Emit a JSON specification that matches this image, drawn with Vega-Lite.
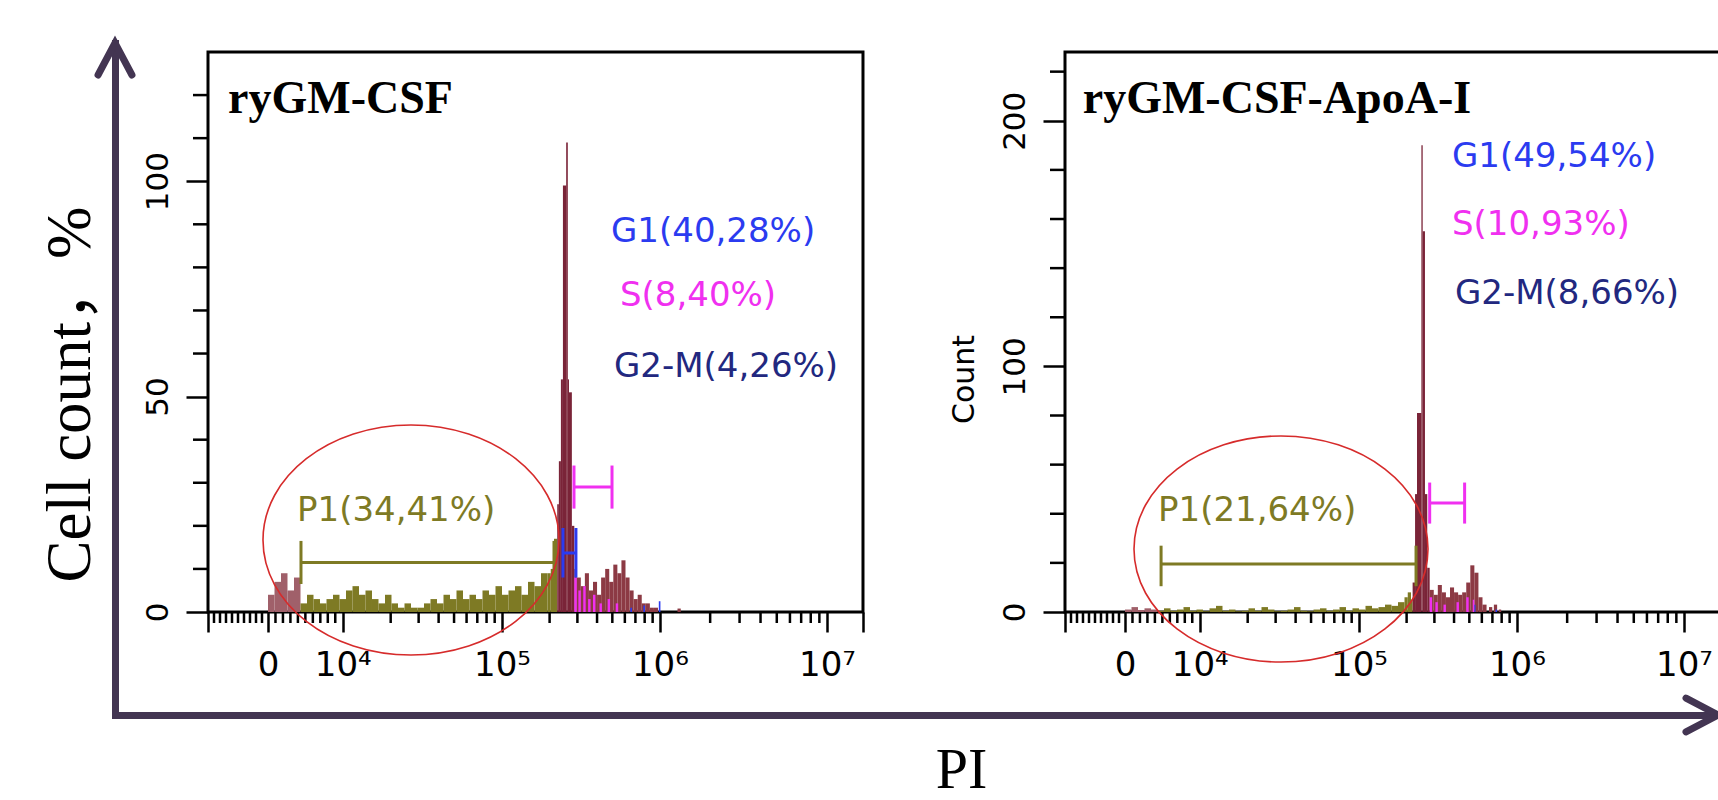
{
  "$schema": "https://vega.github.io/schema/vega-lite/v6.json",
  "width": 1603,
  "height": 672,
  "autosize": {"type": "none"},
  "padding": {"left": 115, "top": 43, "right": 0, "bottom": 85},
  "background": "white",
  "config": {"view": {"stroke": null}, "axis": {"grid": false}},
  "datasets": {
    "arrows": [{"ax": 0, "ay": 1, "k": "v"}, {"ax": 1, "ay": 0, "k": "h"}],
    "xminor": [
      {"x": 3.2277, "y": 0, "y2": 0}, {"x": 3.2646, "y": 0, "y2": 0}, {"x": 3.3015, "y": 0, "y2": 0}, {"x": 3.3385, "y": 0, "y2": 0},
      {"x": 3.3754, "y": 0, "y2": 0}, {"x": 3.4123, "y": 0, "y2": 0}, {"x": 3.4492, "y": 0, "y2": 0}, {"x": 3.4862, "y": 0, "y2": 0},
      {"x": 3.5231, "y": 0, "y2": 0}, {"x": 3.606, "y": 0, "y2": 0}, {"x": 3.652, "y": 0, "y2": 0}, {"x": 3.698, "y": 0, "y2": 0},
      {"x": 3.744, "y": 0, "y2": 0}, {"x": 3.79, "y": 0, "y2": 0}, {"x": 3.836, "y": 0, "y2": 0}, {"x": 3.882, "y": 0, "y2": 0},
      {"x": 3.928, "y": 0, "y2": 0}, {"x": 3.974, "y": 0, "y2": 0}, {"x": 4.315, "y": 0, "y2": 0}, {"x": 4.487, "y": 0, "y2": 0},
      {"x": 4.61, "y": 0, "y2": 0}, {"x": 4.705, "y": 0, "y2": 0}, {"x": 4.782, "y": 0, "y2": 0}, {"x": 4.848, "y": 0, "y2": 0},
      {"x": 4.905, "y": 0, "y2": 0}, {"x": 4.955, "y": 0, "y2": 0}, {"x": 5.293, "y": 0, "y2": 0}, {"x": 5.464, "y": 0, "y2": 0},
      {"x": 5.585, "y": 0, "y2": 0}, {"x": 5.679, "y": 0, "y2": 0}, {"x": 5.756, "y": 0, "y2": 0}, {"x": 5.821, "y": 0, "y2": 0},
      {"x": 5.878, "y": 0, "y2": 0}, {"x": 5.927, "y": 0, "y2": 0}, {"x": 6.281, "y": 0, "y2": 0}, {"x": 6.462, "y": 0, "y2": 0},
      {"x": 6.591, "y": 0, "y2": 0}, {"x": 6.691, "y": 0, "y2": 0}, {"x": 6.772, "y": 0, "y2": 0}, {"x": 6.841, "y": 0, "y2": 0},
      {"x": 6.9, "y": 0, "y2": 0}, {"x": 6.953, "y": 0, "y2": 0}
    ],
    "yminor1": [
      {"x": 3.1908, "x2": 3.1908, "y": 10}, {"x": 3.1908, "x2": 3.1908, "y": 20}, {"x": 3.1908, "x2": 3.1908, "y": 30},
      {"x": 3.1908, "x2": 3.1908, "y": 40}, {"x": 3.1908, "x2": 3.1908, "y": 60}, {"x": 3.1908, "x2": 3.1908, "y": 70},
      {"x": 3.1908, "x2": 3.1908, "y": 80}, {"x": 3.1908, "x2": 3.1908, "y": 90}, {"x": 3.1908, "x2": 3.1908, "y": 110},
      {"x": 3.1908, "x2": 3.1908, "y": 120}
    ],
    "yminor2": [
      {"x": 3.1908, "x2": 3.1908, "y": 20}, {"x": 3.1908, "x2": 3.1908, "y": 40}, {"x": 3.1908, "x2": 3.1908, "y": 60},
      {"x": 3.1908, "x2": 3.1908, "y": 80}, {"x": 3.1908, "x2": 3.1908, "y": 120}, {"x": 3.1908, "x2": 3.1908, "y": 140},
      {"x": 3.1908, "x2": 3.1908, "y": 160}, {"x": 3.1908, "x2": 3.1908, "y": 180}, {"x": 3.1908, "x2": 3.1908, "y": 220}
    ],
    "h1": [
      {"x": 3.56, "x2": 3.6, "y": 4, "g": "debris"},
      {"x": 3.6, "x2": 3.64, "y": 7, "g": "debris"},
      {"x": 3.64, "x2": 3.68, "y": 9, "g": "debris"},
      {"x": 3.68, "x2": 3.72, "y": 5, "g": "debris"},
      {"x": 3.72, "x2": 3.76, "y": 8, "g": "debris"},
      {"x": 3.76, "x2": 3.8, "y": 2, "g": "P1"},
      {"x": 3.8, "x2": 3.84, "y": 4, "g": "P1"},
      {"x": 3.84, "x2": 3.88, "y": 3, "g": "P1"},
      {"x": 3.88, "x2": 3.92, "y": 2, "g": "P1"},
      {"x": 3.92, "x2": 3.96, "y": 3, "g": "P1"},
      {"x": 3.96, "x2": 4.0, "y": 4, "g": "P1"},
      {"x": 4.0, "x2": 4.04, "y": 3, "g": "P1"},
      {"x": 4.04, "x2": 4.08, "y": 5, "g": "P1"},
      {"x": 4.08, "x2": 4.12, "y": 6, "g": "P1"},
      {"x": 4.12, "x2": 4.16, "y": 4, "g": "P1"},
      {"x": 4.16, "x2": 4.2, "y": 5, "g": "P1"},
      {"x": 4.2, "x2": 4.24, "y": 3, "g": "P1"},
      {"x": 4.24, "x2": 4.28, "y": 2, "g": "P1"},
      {"x": 4.28, "x2": 4.32, "y": 4, "g": "P1"},
      {"x": 4.32, "x2": 4.36, "y": 2, "g": "P1"},
      {"x": 4.36, "x2": 4.4, "y": 1, "g": "P1"},
      {"x": 4.4, "x2": 4.44, "y": 2, "g": "P1"},
      {"x": 4.44, "x2": 4.48, "y": 1, "g": "P1"},
      {"x": 4.48, "x2": 4.52, "y": 1, "g": "P1"},
      {"x": 4.52, "x2": 4.56, "y": 2, "g": "P1"},
      {"x": 4.56, "x2": 4.6, "y": 3, "g": "P1"},
      {"x": 4.6, "x2": 4.64, "y": 2, "g": "P1"},
      {"x": 4.64, "x2": 4.68, "y": 4, "g": "P1"},
      {"x": 4.68, "x2": 4.72, "y": 3, "g": "P1"},
      {"x": 4.72, "x2": 4.76, "y": 5, "g": "P1"},
      {"x": 4.76, "x2": 4.8, "y": 3, "g": "P1"},
      {"x": 4.8, "x2": 4.84, "y": 4, "g": "P1"},
      {"x": 4.84, "x2": 4.88, "y": 3, "g": "P1"},
      {"x": 4.88, "x2": 4.92, "y": 5, "g": "P1"},
      {"x": 4.92, "x2": 4.96, "y": 4, "g": "P1"},
      {"x": 4.96, "x2": 5.0, "y": 6, "g": "P1"},
      {"x": 5.0, "x2": 5.04, "y": 4, "g": "P1"},
      {"x": 5.04, "x2": 5.08, "y": 5, "g": "P1"},
      {"x": 5.08, "x2": 5.12, "y": 6, "g": "P1"},
      {"x": 5.12, "x2": 5.16, "y": 4, "g": "P1"},
      {"x": 5.16, "x2": 5.2, "y": 7, "g": "P1"},
      {"x": 5.2, "x2": 5.24, "y": 6, "g": "P1"},
      {"x": 5.24, "x2": 5.28, "y": 9, "g": "P1"},
      {"x": 5.28, "x2": 5.3, "y": 9, "g": "P1"},
      {"x": 5.3, "x2": 5.32, "y": 10, "g": "P1"},
      {"x": 5.32, "x2": 5.34, "y": 17, "g": "P1"},
      {"x": 5.34, "x2": 5.35, "y": 25, "g": "peak"},
      {"x": 5.35, "x2": 5.3625, "y": 35, "g": "peak"},
      {"x": 5.3625, "x2": 5.375, "y": 54, "g": "peak"},
      {"x": 5.375, "x2": 5.395, "y": 99, "g": "peak"},
      {"x": 5.395, "x2": 5.405, "y": 109, "g": "peak"},
      {"x": 5.405, "x2": 5.4125, "y": 54, "g": "peak"},
      {"x": 5.4125, "x2": 5.43, "y": 51, "g": "peak"},
      {"x": 5.43, "x2": 5.445, "y": 20, "g": "peak"},
      {"x": 5.445, "x2": 5.46, "y": 10, "g": "main"},
      {"x": 5.46, "x2": 5.485, "y": 8, "g": "main"},
      {"x": 5.485, "x2": 5.51, "y": 6, "g": "main"},
      {"x": 5.51, "x2": 5.535, "y": 9, "g": "main"},
      {"x": 5.535, "x2": 5.56, "y": 5, "g": "main"},
      {"x": 5.56, "x2": 5.585, "y": 7, "g": "main"},
      {"x": 5.585, "x2": 5.61, "y": 4, "g": "main"},
      {"x": 5.61, "x2": 5.635, "y": 8, "g": "main"},
      {"x": 5.635, "x2": 5.66, "y": 10, "g": "main"},
      {"x": 5.66, "x2": 5.685, "y": 7, "g": "main"},
      {"x": 5.685, "x2": 5.71, "y": 11, "g": "main"},
      {"x": 5.71, "x2": 5.735, "y": 9, "g": "main"},
      {"x": 5.735, "x2": 5.76, "y": 12, "g": "main"},
      {"x": 5.76, "x2": 5.785, "y": 8, "g": "main"},
      {"x": 5.785, "x2": 5.81, "y": 5, "g": "main"},
      {"x": 5.81, "x2": 5.835, "y": 3, "g": "main"},
      {"x": 5.835, "x2": 5.86, "y": 4, "g": "main"},
      {"x": 5.86, "x2": 5.885, "y": 2, "g": "main"},
      {"x": 5.885, "x2": 5.91, "y": 2, "g": "main"},
      {"x": 5.91, "x2": 5.935, "y": 1, "g": "main"},
      {"x": 5.935, "x2": 5.96, "y": 1, "g": "main"},
      {"x": 6.08, "x2": 6.1, "y": 0.8, "g": "main"},
      {"x": 5.445, "x2": 5.46, "y": 8, "g": "S"},
      {"x": 5.47, "x2": 5.485, "y": 5, "g": "S"},
      {"x": 5.5, "x2": 5.515, "y": 6, "g": "S"},
      {"x": 5.53, "x2": 5.545, "y": 3, "g": "S"},
      {"x": 5.56, "x2": 5.575, "y": 4, "g": "S"},
      {"x": 5.6, "x2": 5.615, "y": 2, "g": "S"},
      {"x": 5.65, "x2": 5.665, "y": 3, "g": "S"},
      {"x": 5.7, "x2": 5.715, "y": 2, "g": "S"},
      {"x": 5.79, "x2": 5.8, "y": 1, "g": "G1"},
      {"x": 5.87, "x2": 5.88, "y": 1.5, "g": "G1"},
      {"x": 5.965, "x2": 5.975, "y": 2.5, "g": "G1"}
    ],
    "h2": [
      {"x": 3.56, "x2": 3.6, "y": 1, "g": "debris"},
      {"x": 3.6, "x2": 3.64, "y": 2, "g": "debris"},
      {"x": 3.64, "x2": 3.68, "y": 0.8, "g": "debris"},
      {"x": 3.68, "x2": 3.72, "y": 1.5, "g": "debris"},
      {"x": 3.72, "x2": 3.76, "y": 1, "g": "debris"},
      {"x": 3.76, "x2": 3.8, "y": 0.5, "g": "P1"},
      {"x": 3.8, "x2": 3.84, "y": 1.5, "g": "P1"},
      {"x": 3.84, "x2": 3.88, "y": 0.5, "g": "P1"},
      {"x": 3.88, "x2": 3.92, "y": 1, "g": "P1"},
      {"x": 3.92, "x2": 3.96, "y": 2, "g": "P1"},
      {"x": 3.96, "x2": 4.0, "y": 0.5, "g": "P1"},
      {"x": 4.0, "x2": 4.04, "y": 1, "g": "P1"},
      {"x": 4.04, "x2": 4.08, "y": 0.3, "g": "P1"},
      {"x": 4.08, "x2": 4.12, "y": 1.5, "g": "P1"},
      {"x": 4.12, "x2": 4.16, "y": 2.5, "g": "P1"},
      {"x": 4.16, "x2": 4.2, "y": 0.5, "g": "P1"},
      {"x": 4.2, "x2": 4.24, "y": 1, "g": "P1"},
      {"x": 4.24, "x2": 4.28, "y": 0.3, "g": "P1"},
      {"x": 4.28, "x2": 4.32, "y": 0.5, "g": "P1"},
      {"x": 4.32, "x2": 4.36, "y": 1.5, "g": "P1"},
      {"x": 4.36, "x2": 4.4, "y": 0.5, "g": "P1"},
      {"x": 4.4, "x2": 4.44, "y": 2, "g": "P1"},
      {"x": 4.44, "x2": 4.48, "y": 1, "g": "P1"},
      {"x": 4.48, "x2": 4.52, "y": 0.3, "g": "P1"},
      {"x": 4.52, "x2": 4.56, "y": 0.5, "g": "P1"},
      {"x": 4.56, "x2": 4.6, "y": 1, "g": "P1"},
      {"x": 4.6, "x2": 4.64, "y": 2, "g": "P1"},
      {"x": 4.64, "x2": 4.68, "y": 0.5, "g": "P1"},
      {"x": 4.68, "x2": 4.72, "y": 0.3, "g": "P1"},
      {"x": 4.72, "x2": 4.76, "y": 1, "g": "P1"},
      {"x": 4.76, "x2": 4.8, "y": 1.5, "g": "P1"},
      {"x": 4.8, "x2": 4.84, "y": 0.5, "g": "P1"},
      {"x": 4.84, "x2": 4.88, "y": 1, "g": "P1"},
      {"x": 4.88, "x2": 4.92, "y": 2, "g": "P1"},
      {"x": 4.92, "x2": 4.96, "y": 0.5, "g": "P1"},
      {"x": 4.96, "x2": 5.0, "y": 1.5, "g": "P1"},
      {"x": 5.0, "x2": 5.04, "y": 1, "g": "P1"},
      {"x": 5.04, "x2": 5.08, "y": 2.5, "g": "P1"},
      {"x": 5.08, "x2": 5.12, "y": 1.5, "g": "P1"},
      {"x": 5.12, "x2": 5.16, "y": 2, "g": "P1"},
      {"x": 5.16, "x2": 5.2, "y": 3, "g": "P1"},
      {"x": 5.2, "x2": 5.24, "y": 2.5, "g": "P1"},
      {"x": 5.24, "x2": 5.28, "y": 4, "g": "P1"},
      {"x": 5.28, "x2": 5.3, "y": 6, "g": "P1"},
      {"x": 5.3, "x2": 5.32, "y": 8, "g": "P1"},
      {"x": 5.32, "x2": 5.33, "y": 5, "g": "P1"},
      {"x": 5.33, "x2": 5.345, "y": 12, "g": "peak"},
      {"x": 5.345, "x2": 5.357, "y": 48, "g": "peak"},
      {"x": 5.357, "x2": 5.384, "y": 81, "g": "peak"},
      {"x": 5.384, "x2": 5.392, "y": 190, "g": "peak"},
      {"x": 5.392, "x2": 5.406, "y": 155, "g": "peak"},
      {"x": 5.406, "x2": 5.42, "y": 48, "g": "peak"},
      {"x": 5.42, "x2": 5.435, "y": 18, "g": "peak"},
      {"x": 5.435, "x2": 5.46, "y": 9, "g": "main"},
      {"x": 5.46, "x2": 5.485, "y": 7, "g": "main"},
      {"x": 5.485, "x2": 5.51, "y": 11, "g": "main"},
      {"x": 5.51, "x2": 5.535, "y": 8, "g": "main"},
      {"x": 5.535, "x2": 5.56, "y": 6, "g": "main"},
      {"x": 5.56, "x2": 5.585, "y": 10, "g": "main"},
      {"x": 5.585, "x2": 5.61, "y": 8, "g": "main"},
      {"x": 5.61, "x2": 5.635, "y": 7, "g": "main"},
      {"x": 5.635, "x2": 5.66, "y": 8, "g": "main"},
      {"x": 5.66, "x2": 5.685, "y": 12, "g": "main"},
      {"x": 5.685, "x2": 5.71, "y": 19, "g": "main"},
      {"x": 5.71, "x2": 5.735, "y": 16, "g": "main"},
      {"x": 5.735, "x2": 5.76, "y": 6, "g": "main"},
      {"x": 5.76, "x2": 5.785, "y": 3, "g": "main"},
      {"x": 5.8, "x2": 5.82, "y": 2, "g": "main"},
      {"x": 5.83, "x2": 5.85, "y": 3, "g": "main"},
      {"x": 5.86, "x2": 5.875, "y": 1, "g": "main"},
      {"x": 5.435, "x2": 5.45, "y": 6, "g": "S"},
      {"x": 5.47, "x2": 5.485, "y": 4, "g": "S"},
      {"x": 5.52, "x2": 5.535, "y": 3, "g": "S"},
      {"x": 5.6, "x2": 5.615, "y": 4, "g": "S"},
      {"x": 5.66, "x2": 5.675, "y": 6, "g": "S"},
      {"x": 5.7, "x2": 5.71, "y": 5, "g": "S"},
      {"x": 5.71, "x2": 5.717, "y": 3, "g": "G1"},
      {"x": 5.84, "x2": 5.85, "y": 1, "g": "G1"}
    ],
    "g1": [
      {"x": 3.763, "x2": 5.32, "y": 11.5, "y2": 11.5, "g": "P1"},
      {"x": 3.763, "x2": 3.763, "y": 6.5, "y2": 16.5, "g": "P1"},
      {"x": 5.32, "x2": 5.32, "y": 6.5, "y2": 16.5, "g": "P1"},
      {"x": 5.443, "x2": 5.677, "y": 29, "y2": 29, "g": "S"},
      {"x": 5.443, "x2": 5.443, "y": 24, "y2": 34, "g": "S"},
      {"x": 5.677, "x2": 5.677, "y": 24, "y2": 34, "g": "S"},
      {"x": 5.375, "x2": 5.455, "y": 13.7, "y2": 13.7, "g": "G1"},
      {"x": 5.375, "x2": 5.375, "y": 8, "y2": 19.5, "g": "G1"},
      {"x": 5.455, "x2": 5.455, "y": 8, "y2": 19.5, "g": "G1"}
    ],
    "g2": [
      {"x": 3.782, "x2": 5.351, "y": 19.5, "y2": 19.5, "g": "P1"},
      {"x": 3.782, "x2": 3.782, "y": 10.5, "y2": 27, "g": "P1"},
      {"x": 5.351, "x2": 5.351, "y": 10.5, "y2": 27, "g": "P1"},
      {"x": 5.435, "x2": 5.65, "y": 44.4, "y2": 44.4, "g": "S"},
      {"x": 5.435, "x2": 5.435, "y": 36, "y2": 52.7, "g": "S"},
      {"x": 5.65, "x2": 5.65, "y": 36, "y2": 52.7, "g": "S"}
    ],
    "t1": [
      {"x": 5.6708, "y": 88.21, "t": "G1(40,28%)", "g": "G1"},
      {"x": 5.7262, "y": 73.36, "t": "S(8,40%)", "g": "S"},
      {"x": 5.6893, "y": 56.88, "t": "G2-M(4,26%)", "g": "G2M"},
      {"x": 3.7385, "y": 23.45, "t": "P1(34,41%)", "g": "P1"}
    ],
    "t2": [
      {"x": 5.5723, "y": 185.25, "t": "G1(49,54%)", "g": "G1"},
      {"x": 5.5723, "y": 157.56, "t": "S(10,93%)", "g": "S"},
      {"x": 5.5908, "y": 129.47, "t": "G2-M(8,66%)", "g": "G2M"},
      {"x": 3.7631, "y": 41.12, "t": "P1(21,64%)", "g": "P1"}
    ]
  },
  "layer": [
    {
      "data": {"name": "arrows"},
      "mark": {"type": "point", "filled": false, "stroke": "#433552", "strokeWidth": 7, "strokeCap": "round", "strokeJoin": "miter", "opacity": 1, "size": 4096},
      "encoding": {
        "x": {"field": "ax", "type": "quantitative", "scale": {"domain": [0, 1], "nice": false, "zero": false},
          "axis": {"orient": "bottom", "domain": true, "domainColor": "#433552", "domainWidth": 7, "domainCap": "square", "ticks": false, "labels": false, "grid": false,
            "title": "PI", "titleFont": "Liberation Serif", "titleFontSize": 58, "titleFontWeight": "normal", "titleColor": "black", "titleX": 846, "titleAnchor": "middle", "titlePadding": 26}},
        "y": {"field": "ay", "type": "quantitative", "scale": {"domain": [0, 1], "nice": false, "zero": false},
          "axis": {"orient": "left", "domain": true, "domainColor": "#433552", "domainWidth": 7, "domainCap": "square", "ticks": false, "labels": false, "grid": false,
            "title": "Cell count，%", "titleFont": "Liberation Serif, Noto Sans CJK SC", "titleFontSize": 63, "titleFontWeight": "normal", "titleColor": "black", "titleY": 351, "titlePadding": 13}},
        "shape": {"field": "k", "type": "nominal", "scale": {"domain": ["v", "h"], "range": ["M -0.53 1 L 0 0 L 0.53 1", "M -1 -0.53 L 0 0 L -1 0.53"]}, "legend": null}
      }
    },
    {
      "encoding": {
        "x": {"field": "x", "type": "quantitative", "scale": {"domain": [2.61849, 12.48311], "nice": false, "zero": false},
          "axis": {"orient": "bottom", "offset": -103, "title": null, "domain": false, "grid": false,
            "values": [3.1908, 3.56, 4.02, 5, 5.972, 7, 7.2215],
            "tickColor": "black", "tickWidth": 2.5, "tickSize": 20,
            "labelExpr": "datum.value == 3.56 ? '0' : datum.value == 4.02 ? '10⁴' : datum.value == 5 ? '10⁵' : datum.value == 5.972 ? '10⁶' : datum.value == 7 ? '10⁷' : ''",
            "labelFont": "DejaVu Sans", "labelFontSize": 34, "labelColor": "black", "labelPadding": 16, "labelOverlap": false, "labelFlush": false, "labelBound": false}},
        "y": {"field": "y", "type": "quantitative", "scale": {"domain": [-23.911, 132.089], "nice": false, "zero": false},
          "axis": {"orient": "left", "offset": -93, "title": null, "domain": false, "grid": false,
            "values": [0, 50, 100],
            "tickColor": "black", "tickWidth": 2.5, "tickSize": 22,
            "labelAngle": -90, "labelAlign": "center", "labelBaseline": "bottom",
            "labelFont": "DejaVu Sans", "labelFontSize": 31, "labelColor": "black", "labelPadding": 12, "labelOverlap": false, "labelFlush": false, "labelBound": false}}
      },
      "layer": [
        {
          "data": {"values": [{"x": 3.1908, "x2": 7.2215, "y": 0, "y2": 130}]},
          "mark": {"type": "rect", "fill": "white", "fillOpacity": 0, "stroke": "black", "strokeWidth": 3},
          "encoding": {"x2": {"field": "x2"}, "y2": {"field": "y2"}}
        },
        {
          "data": {"name": "xminor"},
          "mark": {"type": "rule", "color": "black", "strokeWidth": 2.5, "y2Offset": 11},
          "encoding": {"y2": {"field": "y2"}}
        },
        {
          "data": {"name": "yminor1"},
          "mark": {"type": "rule", "color": "black", "strokeWidth": 2.5, "x2Offset": -15},
          "encoding": {"x2": {"field": "x2"}}
        },
        {
          "data": {"name": "h1"},
          "mark": {"type": "rect"},
          "encoding": {
            "x2": {"field": "x2"},
            "y2": {"datum": 0},
            "color": {"field": "g", "type": "nominal", "legend": null, "scale": {"domain": ["debris", "P1", "peak", "main", "S", "G1", "G2M"], "range": ["#A0606A", "#7E7A24", "#7A2438", "#8C3A44", "#F030F0", "#2B3BF0", "#22287F"]}}
          }
        },
        {
          "data": {"name": "g1"},
          "mark": {"type": "rule", "strokeWidth": 3},
          "encoding": {
            "x2": {"field": "x2"},
            "y2": {"field": "y2"},
            "color": {"field": "g", "type": "nominal", "legend": null, "scale": {"domain": ["debris", "P1", "peak", "main", "S", "G1", "G2M"], "range": ["#A0606A", "#7E7A24", "#7A2438", "#8C3A44", "#F030F0", "#2B3BF0", "#22287F"]}}
          }
        },
        {
          "data": {"values": [{"x": 4.44, "y": 16.71}]},
          "mark": {"type": "point", "shape": "M -1 0 A 1 0.777 0 1 1 1 0 A 1 0.777 0 1 1 -1 0 Z", "size": 87616, "filled": false, "stroke": "#D62B2B", "strokeWidth": 1.6, "opacity": 1},
          "encoding": {}
        },
        {
          "data": {"name": "t1"},
          "mark": {"type": "text", "align": "left", "baseline": "middle", "font": "DejaVu Sans", "fontSize": 34},
          "encoding": {
            "text": {"field": "t"},
            "color": {"field": "g", "type": "nominal", "legend": null, "scale": {"domain": ["debris", "P1", "peak", "main", "S", "G1", "G2M"], "range": ["#A0606A", "#7E7A24", "#7A2438", "#8C3A44", "#F030F0", "#2B3BF0", "#22287F"]}}
          }
        },
        {
          "data": {"values": [{"x": 3.314, "y": 119.09, "t": "ryGM-CSF"}]},
          "mark": {"type": "text", "align": "left", "baseline": "middle", "font": "Liberation Serif", "fontWeight": "bold", "fontSize": 46, "color": "black"},
          "encoding": {"text": {"field": "t"}}
        }
      ]
    },
    {
      "encoding": {
        "x": {"field": "x", "type": "quantitative", "scale": {"domain": [-2.65535, 7.20926], "nice": false, "zero": false},
          "axis": {"orient": "bottom", "offset": -103, "title": null, "domain": false, "grid": false,
            "values": [3.1908, 3.56, 4.02, 5, 5.972, 7],
            "tickColor": "black", "tickWidth": 2.5, "tickSize": 20,
            "labelExpr": "datum.value == 3.56 ? '0' : datum.value == 4.02 ? '10⁴' : datum.value == 5 ? '10⁵' : datum.value == 5.972 ? '10⁶' : datum.value == 7 ? '10⁷' : ''",
            "labelFont": "DejaVu Sans", "labelFontSize": 34, "labelColor": "black", "labelPadding": 16, "labelOverlap": false, "labelFlush": false, "labelBound": false}},
        "y": {"field": "y", "type": "quantitative", "scale": {"domain": [-41.936, 231.664], "nice": false, "zero": false},
          "axis": {"orient": "left", "offset": -950, "domain": false, "grid": false,
            "title": "Count", "titleFont": "DejaVu Sans", "titleFontSize": 30, "titleFontWeight": "normal", "titleColor": "black", "titlePadding": 20,
            "values": [0, 100, 200],
            "tickColor": "black", "tickWidth": 2.5, "tickSize": 22,
            "labelAngle": -90, "labelAlign": "center", "labelBaseline": "bottom",
            "labelFont": "DejaVu Sans", "labelFontSize": 31, "labelColor": "black", "labelPadding": 12, "labelOverlap": false, "labelFlush": false, "labelBound": false}}
      },
      "layer": [
        {
          "data": {"values": [{"x": 3.1908, "x2": 7.2215, "y": 0, "y2": 228}]},
          "mark": {"type": "rect", "fill": "white", "fillOpacity": 0, "stroke": "black", "strokeWidth": 3},
          "encoding": {"x2": {"field": "x2"}, "y2": {"field": "y2"}}
        },
        {
          "data": {"name": "xminor"},
          "mark": {"type": "rule", "color": "black", "strokeWidth": 2.5, "y2Offset": 11},
          "encoding": {"y2": {"field": "y2"}}
        },
        {
          "data": {"name": "yminor2"},
          "mark": {"type": "rule", "color": "black", "strokeWidth": 2.5, "x2Offset": -15},
          "encoding": {"x2": {"field": "x2"}}
        },
        {
          "data": {"name": "h2"},
          "mark": {"type": "rect"},
          "encoding": {
            "x2": {"field": "x2"},
            "y2": {"datum": 0},
            "color": {"field": "g", "type": "nominal", "legend": null, "scale": {"domain": ["debris", "P1", "peak", "main", "S", "G1", "G2M"], "range": ["#A0606A", "#7E7A24", "#7A2438", "#8C3A44", "#F030F0", "#2B3BF0", "#22287F"]}}
          }
        },
        {
          "data": {"name": "g2"},
          "mark": {"type": "rule", "strokeWidth": 3},
          "encoding": {
            "x2": {"field": "x2"},
            "y2": {"field": "y2"},
            "color": {"field": "g", "type": "nominal", "legend": null, "scale": {"domain": ["debris", "P1", "peak", "main", "S", "G1", "G2M"], "range": ["#A0606A", "#7E7A24", "#7A2438", "#8C3A44", "#F030F0", "#2B3BF0", "#22287F"]}}
          }
        },
        {
          "data": {"values": [{"x": 4.52, "y": 25.65}]},
          "mark": {"type": "point", "shape": "M -1 0 A 1 0.769 0 1 1 1 0 A 1 0.769 0 1 1 -1 0 Z", "size": 86436, "filled": false, "stroke": "#D62B2B", "strokeWidth": 1.6, "opacity": 1},
          "encoding": {}
        },
        {
          "data": {"name": "t2"},
          "mark": {"type": "text", "align": "left", "baseline": "middle", "font": "DejaVu Sans", "fontSize": 34},
          "encoding": {
            "text": {"field": "t"},
            "color": {"field": "g", "type": "nominal", "legend": null, "scale": {"domain": ["debris", "P1", "peak", "main", "S", "G1", "G2M"], "range": ["#A0606A", "#7E7A24", "#7A2438", "#8C3A44", "#F030F0", "#2B3BF0", "#22287F"]}}
          }
        },
        {
          "data": {"values": [{"x": 3.30, "y": 208.87, "t": "ryGM-CSF-ApoA-I"}]},
          "mark": {"type": "text", "align": "left", "baseline": "middle", "font": "Liberation Serif", "fontWeight": "bold", "fontSize": 46, "color": "black"},
          "encoding": {"text": {"field": "t"}}
        }
      ]
    }
  ],
  "resolve": {"scale": {"x": "independent", "y": "independent"}, "axis": {"x": "independent", "y": "independent"}}
}
